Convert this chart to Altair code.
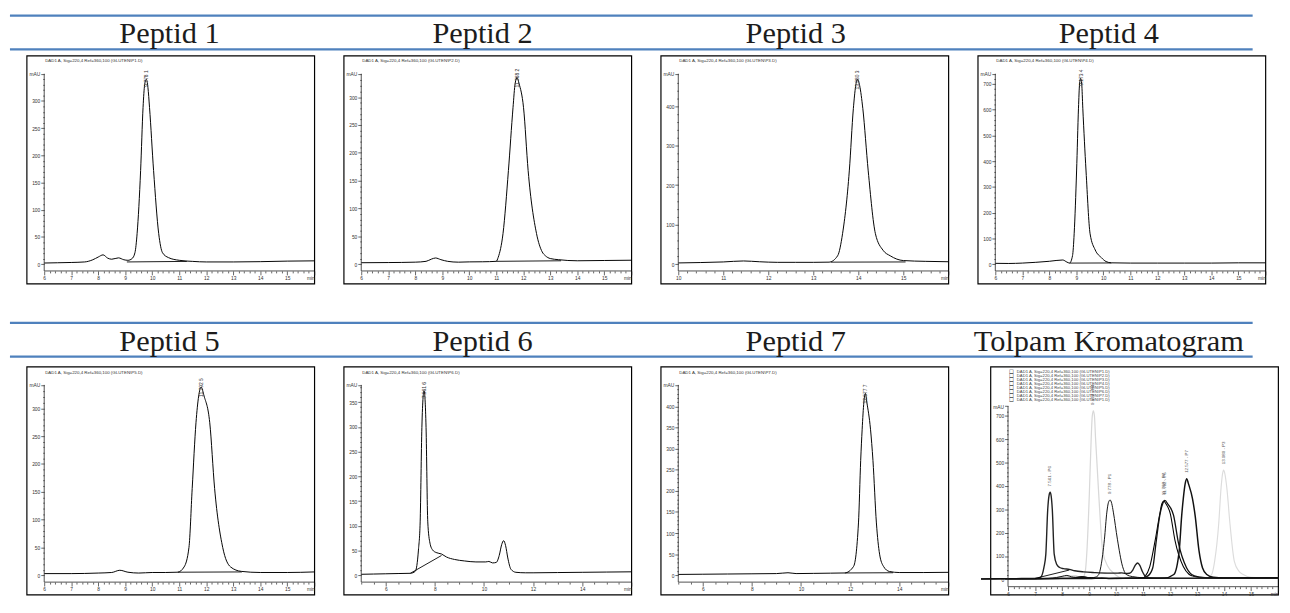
import altair as alt
import pandas as pd

# ---------------- data ----------------
TITLES_ROW1 = ["Peptid 1", "Peptid 2", "Peptid 3", "Peptid 4"]
TITLES_ROW2 = ["Peptid 5", "Peptid 6", "Peptid 7", "Tolpam Kromatogram"]

P1_T = [6.0, 6.5, 7.0, 7.5, 7.8, 8.0, 8.18, 8.35, 8.5, 8.75, 8.95, 9.1, 9.25, 9.36, 9.44, 9.57, 9.66, 9.72, 9.78, 9.84,
        9.9, 10.05, 10.24, 10.38, 10.6, 11.0, 11.5, 12.0, 13.0, 14.0, 15.0, 16.0]
P1_V = [2, 2.5, 3, 4, 8, 13, 17, 11, 9, 11.5, 8, 7, 10, 21, 56, 172, 288, 330, 340, 325,
        288, 172, 56, 21, 12, 7, 5, 4, 4, 4.5, 5.5, 6]

P2_T = [6.0, 7.0, 8.0, 8.4, 8.6, 8.75, 8.95, 9.2, 9.6, 10.0, 10.5, 11.0, 11.07, 11.25, 11.45, 11.62, 11.7, 11.77,
        11.84, 12.01, 12.18, 12.49, 12.7, 12.82, 13.0, 13.3, 14.0, 15.0, 16.0]
P2_V = [2.5, 2.8, 3.5, 5, 9, 11, 8, 5, 3.5, 4, 4.2, 5, 12, 55, 168, 281, 325, 335,
        325, 281, 168, 55, 22, 15, 10, 8, 6, 6.5, 7]

P3_T = [10.0, 10.5, 11.0, 11.45, 11.8, 12.2, 12.6, 13.0, 13.35, 13.54, 13.65, 13.8, 13.89, 13.94, 13.98, 14.03,
        14.1, 14.22, 14.38, 14.55, 14.71, 15.0, 15.5, 16.0]
P3_V = [3, 4, 5.5, 8, 6, 4.5, 4.5, 4.5, 5, 21, 77, 236, 394, 450, 468, 452,
        394, 236, 77, 35, 21, 9, 7, 6]

P4_T = [6.0, 6.5, 7.0, 7.5, 8.0, 8.5, 8.65, 8.75, 8.86, 8.92, 9.01, 9.08, 9.12, 9.16, 9.2, 9.24, 9.36, 9.51, 9.7,
        9.93, 10.1, 10.3, 11.0, 12.0, 13.0, 14.0, 15.0, 16.0]
P4_V = [3, 2.5, 4, 7, 11, 16, 8, 4, 33, 118, 362, 606, 700, 722, 700, 606, 362, 118, 55,
        25, 10, 5, 4, 4, 4, 4, 5, 5]

P5_T = [6.0, 7.0, 8.0, 8.5, 8.8, 9.1, 9.5, 10.0, 10.5, 10.94, 11.18, 11.36, 11.48, 11.62, 11.72, 11.81, 11.92,
        12.13, 12.31, 12.61, 12.9, 13.3, 14.0, 15.0, 16.0]
P5_V = [3, 3, 4, 5, 9, 5.5, 4, 5, 5, 5.5, 15, 50, 156, 274, 322, 338, 322,
        274, 156, 50, 15, 7, 5, 5, 6]

P6_T = [5.0, 5.5, 6.0, 6.5, 7.0, 7.2, 7.33, 7.4, 7.47, 7.52, 7.56, 7.6, 7.64, 7.71, 7.8, 7.91, 8.05, 8.27, 8.47,
        8.8, 9.2, 9.67, 10.07, 10.2, 10.35, 10.5, 10.62, 10.72, 10.8, 10.88, 10.97, 11.1, 11.3, 11.7, 12.0, 13.0,
        14.0, 15.0, 16.0]
P6_V = [2, 2.5, 3, 3.5, 4, 8, 51, 108, 299, 360, 373, 355, 299, 108, 65, 51, 46, 43, 37,
        32, 29, 27, 27, 28, 25, 26, 40, 62, 70, 60, 35, 12, 6, 5, 5, 5.5,
        6, 6.5, 7]

P7_T = [5.0, 6.0, 7.0, 8.0, 9.0, 9.47, 9.8, 10.5, 11.2, 11.78, 12.14, 12.34, 12.43, 12.49, 12.56, 12.62, 12.68,
        12.83, 12.93, 13.07, 13.2, 13.36, 13.6, 14.0, 15.0, 16.0]
P7_V = [2, 2.5, 3, 3.5, 4, 6, 4, 4.5, 5, 5.5, 21, 124, 272, 346, 410, 431, 410,
        346, 272, 124, 50, 21, 9, 6.5, 6.5, 7]

PEPTIDES = ["P1", "P2", "P3", "P4", "P5", "P6", "P7"]
RET_TIMES = ["9.778", "11.768", "13.980", "9.173", "11.792", "7.561", "12.577"]
# integration baselines: start t, start v, end t, end v
BASELINES = {
    "P1": [9.06, 4, 11.28, 5],
    "P2": [11.0, 5, 13.4, 6],
    "P3": [13.39, 5, 15.05, 5.5],
    "P4": [8.75, 4, 10.3, 4.5],
    "P5": [10.94, 5.5, 13.32, 6],
    "P6": [7.0, 4, 8.27, 40],
    "P7": [11.78, 5.5, 13.75, 6],
}
SIGNAL = "DAD1 A, Sig=220,4 Ref=360,100 (GLUTEN\\{}.D)"
LEGEND_FILES = ["P1", "P2", "P3", "P4", "P5", "P6", "P7", "P1"]

TRACES = {"P1": (P1_T, P1_V), "P2": (P2_T, P2_V), "P3": (P3_T, P3_V), "P4": (P4_T, P4_V),
          "P5": (P5_T, P5_V), "P6": (P6_T, P6_V), "P7": (P7_T, P7_V)}

# axis settings: start/end time, minor tick step, label step, top of y axis (mAU), label step, minor step
CFG = {
    "P1": dict(t0=6, te=16, xminor=0.2, xlab=1, ytop=350, ystep=50, yminor=10),
    "P2": dict(t0=6, te=16, xminor=0.2, xlab=1, ytop=342, ystep=50, yminor=10),
    "P3": dict(t0=10, te=16, xminor=0.2, xlab=1, ytop=482, ystep=100, yminor=20),
    "P4": dict(t0=6, te=16, xminor=0.2, xlab=1, ytop=740, ystep=100, yminor=20),
    "P5": dict(t0=6, te=16, xminor=0.2, xlab=1, ytop=342, ystep=50, yminor=10),
    "P6": dict(t0=5, te=16, xminor=0.5, xlab=2, ytop=385, ystep=50, yminor=10),
    "P7": dict(t0=5, te=16, xminor=0.5, xlab=2, ytop=451, ystep=50, yminor=10),
    "ALL": dict(t0=6, te=16, xminor=0.2, xlab=1, ytop=742, ystep=100, yminor=20),
}
OV_COLORS = ["#111111", "#000000", "#dcdcdc", "#d8d8d8", "#111111", "#222222", "#111111"]
OV_WIDTHS = [1.0, 1.5, 0.9, 0.9, 1.3, 0.9, 1.2]

# ---------------- layout ----------------
BOX_W, BOX_H, AX_IN = 294, 233, 18
GAP, LEFT = 26, 16
TOTAL_W = LEFT + 4 * BOX_W + 3 * GAP
BLUE = "#4f81bd"
SMALL = "Liberation Sans Narrow, Liberation Sans, Arial"


def frange(a, b, s):
    n = int(round((b - a) / s))
    return [round(a + i * s, 3) for i in range(n + 1)]


def scales(cfg, fz, ft, fx):
    t0, te = cfg["t0"], cfg["te"]
    ppm = (BOX_W - AX_IN) / (te - t0)
    tl = t0 - AX_IN / ppm
    zpx, tpx, xpx = fz * BOX_H, ft * BOX_H, fx * BOX_H
    upp = (zpx - tpx) / cfg["ytop"]
    hi, lo, yx = zpx / upp, (zpx - BOX_H) / upp, (zpx - xpx) / upp
    xl = cfg["xlab"]
    xtest = f"abs(datum.value / {xl} - round(datum.value / {xl})) < 0.001"
    xaxis = alt.Axis(
        values=frange(t0, te, cfg["xminor"]),
        labelExpr=f"datum.value == {te} ? 'min' : ({xtest} ? '' + round(datum.value) : '')",
        tickSize={"condition": {"test": f"{xtest} || datum.value == {te}", "value": 4}, "value": 2},
        offset=-(BOX_H - xpx), domain=False, grid=False, title=None,
        labelFont=SMALL, labelFontSize=5, labelColor="#333333", labelPadding=1,
        labelFlush=2, labelOverlap=False, tickColor="#222222", tickWidth=0.7)
    ytop, ys, ym = cfg["ytop"], cfg["ystep"], cfg["yminor"]
    yvals = [v for v in range(0, ytop, ym) if ytop - v > ym * 0.4] + [ytop]
    yaxis = alt.Axis(
        values=yvals,
        labelExpr=f"datum.value == {ytop} ? 'mAU' : (datum.value % {ys} == 0 ? '' + round(datum.value) : '')",
        tickSize={"condition": {"test": f"datum.value % {ys} == 0 || datum.value == {ytop}", "value": 3.5},
                  "value": 1.5},
        offset=-AX_IN, domain=False, grid=False, title=None,
        labelFont=SMALL, labelFontSize=5, labelColor="#333333", labelPadding=1,
        labelOverlap=False, tickColor="#222222", tickWidth=0.7)
    X = alt.X("t:Q", scale=alt.Scale(domain=[tl, te], nice=False, zero=False), axis=xaxis)
    Y = alt.Y("v:Q", scale=alt.Scale(domain=[lo, hi], nice=False, zero=False), axis=yaxis)
    return X, Y, yx


def axis_lines(cfg, yx, X, Y):
    df = pd.DataFrame({"t": [cfg["t0"], cfg["t0"]], "t2": [cfg["t0"], cfg["te"]],
                       "v": [yx, yx], "v2": [cfg["ytop"], yx]})
    return alt.Chart(df).mark_rule(color="#222222", strokeWidth=0.8).encode(
        x=X, x2="t2:Q", y=Y, y2="v2:Q")


def baseline_layer(name, X, Y):
    b = BASELINES[name]
    return alt.Chart(pd.DataFrame({"t": [b[0]], "v": [b[1]], "t2": [b[2]], "v2": [b[3]]})).mark_rule(
        color="black", strokeWidth=0.9).encode(x=X, y=Y, x2="t2:Q", y2="v2:Q")


def panel(k):
    name = PEPTIDES[k]
    T, V = TRACES[name]
    cfg = CFG[name]
    X, Y, yx = scales(cfg, 0.915, 0.08, 0.945)
    trace = alt.Chart(pd.DataFrame({"t": T, "v": V})).mark_line(
        color="black", strokeWidth=1, interpolate="monotone").encode(x=X, y=Y)
    i = max(range(len(V)), key=lambda j: V[j])
    # rotated retention-time label: starts a little above the apex and runs down into the peak
    lab = alt.Chart(pd.DataFrame({"t": [T[i]], "v": [V[i]], "lab": [RET_TIMES[k] + "  " + str(k + 1)]})).mark_text(
        angle=270, align="right", baseline="middle", dx=9, fontSize=5, font=SMALL,
        color="#333333").encode(x=X, y=Y, text="lab:N")
    head = alt.Chart(pd.DataFrame({"s": [SIGNAL.format(name)]})).mark_text(
        align="left", baseline="top", fontSize=4.5, font=SMALL, color="#333333").encode(
        x=alt.value(AX_IN + 1), y=alt.value(3), text="s:N")
    return alt.layer(baseline_layer(name, X, Y), trace, axis_lines(cfg, yx, X, Y), lab, head).properties(
        width=BOX_W, height=BOX_H, view=alt.ViewBackground(stroke="black", strokeWidth=1.2))


def overlay():
    cfg = CFG["ALL"]
    X, Y, yx = scales(cfg, 0.933, 0.173, 0.965)
    leg_dom = [SIGNAL.format(n) for n in PEPTIDES]
    light, dark, labs = [], [], []
    for k, n in enumerate(PEPTIDES):
        T, V = TRACES[n]
        target = light if n in ("P3", "P4") else dark
        for t, v in zip(T, V):
            target.append({"t": t, "v": v, "leg": leg_dom[k]})
        i = max(range(len(V)), key=lambda j: V[j])
        labs.append({"t": T[i], "v": V[i], "lab": f"{RET_TIMES[k]} - {n}"})
    color = alt.Color("leg:N", scale=alt.Scale(domain=leg_dom, range=OV_COLORS), legend=None)
    width = alt.StrokeWidth("leg:N", scale=alt.Scale(domain=leg_dom, range=OV_WIDTHS), legend=None)
    l1 = alt.Chart(pd.DataFrame(light)).mark_line(interpolate="monotone").encode(
        x=X, y=Y, color=color, strokeWidth=width)
    l2 = alt.Chart(pd.DataFrame(dark)).mark_line(interpolate="monotone").encode(
        x=X, y=Y, color=color, strokeWidth=width)
    lab = alt.Chart(pd.DataFrame(labs)).mark_text(
        angle=270, align="left", baseline="middle", dx=6, fontSize=4.5, font=SMALL,
        color="#555555").encode(x=X, y=Y, text="lab:N")
    # signal list drawn at the top-left of the overlay, one line per file
    leg_df = pd.DataFrame({
        "s": ["\n".join(SIGNAL.format(n) for n in LEGEND_FILES)],
        "box": ["\n".join("\u25a1" for _ in LEGEND_FILES)],
    })
    leg_text = alt.Chart(leg_df).mark_text(
        align="left", baseline="top", fontSize=4.3, lineHeight=4.1, lineBreak="\n", font=SMALL,
        color="#444444").encode(x=alt.value(AX_IN + 9), y=alt.value(3), text="s:N")
    leg_box = alt.Chart(leg_df).mark_text(
        align="left", baseline="top", fontSize=5.2, lineHeight=4.1, lineBreak="\n", font="DejaVu Sans",
        color="#111111").encode(x=alt.value(AX_IN + 1), y=alt.value(2.6), text="box:N")
    return alt.layer(l1, l2, baseline_layer("P6", X, Y), axis_lines(cfg, yx, X, Y), lab,
                     leg_box, leg_text).properties(
        width=BOX_W, height=BOX_H, view=alt.ViewBackground(stroke="black", strokeWidth=1.2))


def header(titles):
    df = pd.DataFrame({"title": titles})
    c0 = LEFT + BOX_W / 2
    xs = alt.X("title:N", scale=alt.Scale(type="point", domain=titles,
                                          range=[c0, c0 + 3 * (BOX_W + GAP)], padding=0), axis=None)
    text = alt.Chart(df).mark_text(font="Liberation Serif", fontSize=31, color="#1c1c1c",
                                   baseline="alphabetic").encode(x=xs, y=alt.value(29.5), text="title:N")
    one = pd.DataFrame({"k": [0]})
    top = alt.Chart(one).mark_rule(color=BLUE, strokeWidth=2.5).encode(
        x=alt.value(0), x2=alt.value(TOTAL_W), y=alt.value(1.25))
    bot = alt.Chart(one).mark_rule(color=BLUE, strokeWidth=2.5).encode(
        x=alt.value(0), x2=alt.value(TOTAL_W), y=alt.value(35.75))
    return alt.layer(top, bot, text).properties(width=TOTAL_W, height=37)


def spacer():
    return alt.Chart(pd.DataFrame({"k": [0]})).mark_rule(opacity=0).encode(
        x=alt.value(LEFT / 2), y=alt.value(0), y2=alt.value(2)).properties(width=LEFT, height=20)


row1 = alt.hconcat(spacer(), alt.hconcat(*[panel(k) for k in range(4)], spacing=GAP), spacing=0)
row2 = alt.hconcat(spacer(), alt.hconcat(panel(4), panel(5), panel(6), overlay(), spacing=GAP), spacing=0)

block1 = alt.vconcat(header(TITLES_ROW1), row1, spacing=4)
block2 = alt.vconcat(header(TITLES_ROW2), row2, spacing=8)

chart = alt.vconcat(block1, block2, spacing=38).properties(
    padding=0, background="white").configure_view(stroke=None)

chart.save("out.html", embed_options={"renderer": "svg", "actions": False})
